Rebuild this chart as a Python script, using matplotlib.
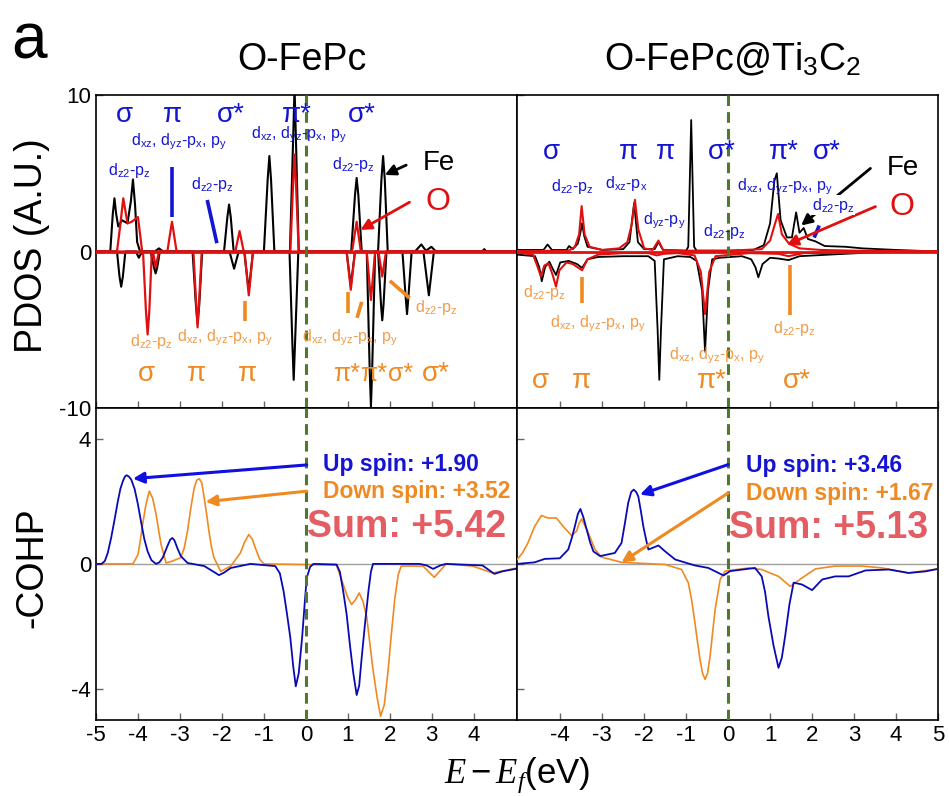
import numpy as np
import matplotlib
matplotlib.use("Agg")
import matplotlib.pyplot as plt

plt.rcParams['font.family'] = ['Liberation Sans', 'DejaVu Sans']
plt.rcParams['mathtext.fontset'] = 'custom'
plt.rcParams['mathtext.rm'] = 'Liberation Sans'
plt.rcParams['mathtext.it'] = 'Liberation Serif:italic'
plt.rcParams['mathtext.bf'] = 'Liberation Sans:bold'
plt.rcParams['axes.unicode_minus'] = False

# ---- PDOS, O-FePc (x in eV, y in A.U.) ----
fe_up_x = [-5.0, -4.66, -4.60, -4.56, -4.52, -4.47, -4.38, -4.25, -4.17, -4.12, -4.07, -4.02,
           -3.95, -3.6, -3.5, -3.4, -1.95, -1.87, -1.83, -1.79, -1.72, -1.0, -0.91, -0.87,
           -0.83, -0.75, -0.38, -0.30, -0.27, -0.24, -0.17, 1.08, 1.17, 1.21, 1.25, 1.33,
           1.72, 1.80, 1.84, 1.88, 1.95, 2.6, 2.75, 2.86, 2.99, 3.1, 4.2, 4.25, 4.3, 5.03]
fe_up_y = [0, 0, 2.4, 3.4, 2.4, 1.6, 2.0, 1.8, 3.2, 4.6, 3.0, 0.6,
           0, 0, 0.2, 0, 0, 2.2, 3.0, 2.2, 0, 0, 4.6, 6.1,
           4.6, 0, 0, 7.5, 10.5, 7.5, 0, 0, 3.6, 4.7, 3.6, 0,
           0, 4.6, 6.1, 4.6, 0, 0, 0.45, 0.05, 0.3, 0, 0, 0.15, 0, 0]
fe_dn_x = [-5.0, -4.5, -4.44, -4.40, -4.36, -4.3, -4.05, -3.98, -3.9, -3.7, -3.62, -3.58,
           -3.54, -3.48, -2.7, -2.62, -2.58, -2.54, -2.47, -1.82, -1.71, -1.6, -1.47, -1.36,
           -1.26, -0.39, -0.32, -0.29, -0.26, -0.18, 0.97, 1.07, 1.17, 1.45, 1.52, 1.55,
           1.58, 1.65, 1.72, 1.79, 1.82, 1.85, 1.92, 2.3, 2.38, 2.41, 2.44, 2.52, 2.8, 2.93,
           3.05, 5.03]
fe_dn_y = [0, 0, -1.6, -2.25, -1.6, 0, 0, -0.4, 0, 0, -1.0, -1.4,
           -1.0, 0, 0, -3.4, -4.6, -3.4, 0, 0, -1.1, 0, 0, -2.5,
           0, 0, -6.0, -8.2, -6.0, 0, 0, -2.2, 0, 0, -7.5, -9.9,
           -7.5, 0, 0, -3.4, -4.4, -3.4, 0, 0, -3.0, -4.0, -3.0, 0, 0, -2.8,
           0, 0]
o_up_x = [-5.0, -4.5, -4.43, -4.35, -4.25, -4.15, -4.0, -3.9, -3.3, -3.22, -3.19, -3.16,
          -3.08, -1.68, -1.58, -1.48, -0.37, -0.30, -0.27, -0.24, -0.17, 1.1, 1.21, 1.31,
          5.03]
o_up_y = [0, 0, 1.5, 3.4, 1.8, 1.9, 2.2, 0, 0, 1.4, 1.9, 1.4,
          0, 0, 1.3, 0, 0, 4.6, 6.2, 4.6, 0, 0, 1.9, 0,
          0]
o_dn_x = [-5.0, -3.88, -3.81, -3.77, -3.73, -3.67, -3.64, -3.58, -3.5, -2.68, -2.61, -2.58,
          -2.55, -2.48, -1.46, -1.39, -1.36, -1.33, -1.26, 0.97, 1.07, 1.17, 1.45, 1.55,
          1.65, 1.73, 1.82, 1.91, 5.03]
o_dn_y = [0, 0, -3.8, -5.3, -3.8, 0, 0, -1.0, 0, 0, -3.5, -4.85,
          -3.5, 0, 0, -2.0, -2.8, -2.0, 0, 0, -2.45, 0, 0, -3.1,
          0, 0, -1.6, 0, 0]

# ---- PDOS, O-FePc@Ti3C2 ----
fe2_up_x = [-5.03, -4.4, -4.3, -4.2, -3.85, -3.79, -3.7, -3.58, -3.52, -3.48, -3.43, -3.35,
            -3.0, -2.5, -2.35, -2.24, -2.15, -2.0, -1.75, -1.66, -1.55, -1.0, -0.95, -0.88,
            -0.81, -0.75, 0.0, 0.6, 0.85, 1.0, 1.1, 1.16, 1.25, 1.4, 1.52, 1.62, 1.7, 1.8,
            1.9, 2.08, 2.3, 2.8, 3.2, 4.0, 4.5, 5.0]
fe2_up_y = [0.1, 0.1, 0.45, 0.1, 0.1, 0.35, 0.15, 0.5, 1.2, 1.8, 1.0, 0.3,
            0.1, 0.15, 0.6, 3.1, 0.6, 0.15, 0.15, 0.6, 0.1, 0.05, 0.3, 8.4,
            0.3, 0.05, 0.05, 0.1, 0.4, 1.8, 4.5, 5.0, 2.0, 0.9, 0.9, 2.5, 1.2, 1.5,
            0.8, 0.65, 0.35, 0.3, 0.2, 0.1, 0.05, 0]
fe2_dn_x = [-5.03, -4.6, -4.5, -4.44, -4.36, -4.26, -4.18, -4.1, -4.0, -3.8, -3.6, -3.48,
            -3.35, -3.1, -2.5, -1.9, -1.75, -1.68, -1.64, -1.6, -1.53, -1.2, -0.9, -0.75,
            -0.62, -0.55, -0.48, -0.38, -0.2, 0.33, 0.55, 0.65, 0.72, 0.82, 1.0, 1.2, 1.44,
            1.7, 2.4, 3.5, 5.0]
fe2_dn_y = [-0.2, -0.3, -1.0, -1.9, -1.0, -0.65, -1.1, -1.5, -0.7, -0.6, -0.8, -1.05,
            -0.5, -0.35, -0.3, -0.3, -0.6, -5.0, -8.2, -5.0, -0.5, -0.3, -0.35, -0.6,
            -2.5, -6.4, -2.5, -0.5, -0.4, -0.3, -0.5, -1.0, -1.65, -0.8, -0.4, -0.45, -0.55,
            -0.3, -0.2, -0.05, 0]
o2_up_x = [-5.03, -3.8, -3.65, -3.55, -3.49, -3.42, -3.3, -3.0, -2.6, -2.4, -2.3, -2.22,
           -2.14, -2.0, -1.8, -1.66, -1.55, -1.0, 0.0, 0.8, 1.0, 1.12, 1.19, 1.28, 1.45,
           1.7, 2.2, 3.0, 5.0]
o2_up_y = [0.03, 0.05, 0.3, 1.1, 2.9, 1.1, 0.3, 0.1, 0.2, 0.6, 1.7, 3.3,
           1.4, 0.2, 0.1, 0.7, 0.1, 0.05, 0.05, 0.15, 0.7, 1.8, 2.4, 1.1, 0.5,
           0.2, 0.1, 0.05, 0.02]
o2_dn_x = [-5.03, -4.65, -4.55, -4.46, -4.38, -4.28, -4.18, -4.1, -4.02, -3.85, -3.7, -3.48,
           -3.35, -3.1, -2.5, -1.9, -1.7, -1.55, -1.2, -0.8, -0.65, -0.55, -0.45, -0.3,
           0.5, 1.2, 1.44, 1.8, 3.0, 5.0]
o2_dn_y = [-0.05, -0.2, -0.9, -1.6, -0.9, -0.75, -1.5, -2.25, -1.2, -0.7, -0.8, -1.2,
           -0.5, -0.2, -0.1, -0.1, -0.25, -0.15, -0.1, -0.25, -1.3, -4.0, -1.3, -0.3,
           -0.1, -0.15, -0.3, -0.1, -0.05, 0]

# ---- -COHP, O-FePc ----
up1_x = [-5.0, -4.87, -4.79, -4.72, -4.64, -4.56, -4.48, -4.42, -4.36, -4.31, -4.27, -4.22,
         -4.16, -4.08, -4.0, -3.93, -3.85, -3.77, -3.68, -3.57, -3.49, -3.41, -3.29, -3.23,
         -3.18, -3.13, -3.06, -2.98, -2.82, -2.42, -2.2, -2.07, -1.95, -1.79, -1.32, -0.73,
         -0.62, -0.53, -0.45, -0.37, -0.3, -0.24, -0.17, -0.09, -0.03, 0.02, 0.1, 0.18,
         0.73, 0.81, 0.89, 0.97, 1.05, 1.13, 1.21, 1.27, 1.33, 1.41, 1.49, 1.55, 1.6, 2.71,
         2.88, 3.03, 3.2, 3.34, 4.21, 4.49, 4.68, 5.03]
up1_y = [0, 0, 0.09, 0.35, 0.83, 1.4, 2.0, 2.4, 2.65, 2.8, 2.84, 2.8,
         2.7, 2.4, 1.9, 1.37, 0.8, 0.4, 0.12, 0.0, 0.05, 0.2, 0.6, 0.78,
         0.83, 0.75, 0.5, 0.25, 0.03, -0.07, -0.25, -0.36, -0.28, -0.13, 0, -0.07,
         -0.3, -0.88, -1.6, -2.37, -3.3, -3.92, -3.5, -2.37, -1.3, -0.45, -0.1, 0,
         -0.02, -0.25, -0.88, -1.6, -2.6, -3.5, -4.2, -3.9, -3.0, -1.9, -0.88, -0.25, 0, 0,
         -0.05, -0.16, -0.05, 0, -0.05, -0.32, -0.24, -0.15]
dn1_x = [-5.0, -4.12, -4.0, -3.95, -3.89, -3.81, -3.73, -3.65, -3.57, -3.51, -3.45, -3.33,
         -3.18, -2.98, -2.9, -2.82, -2.74, -2.66, -2.6, -2.54, -2.48, -2.42, -2.36, -2.31,
         -2.25, -2.19, -2.03, -1.79, -1.56, -1.46, -1.36, -1.28, -1.2, -1.1, -1.0, 0.73,
         0.89, 0.99, 1.09, 1.18, 1.27, 1.36, 1.45, 1.52, 1.6, 1.7, 1.78, 1.87, 1.96, 2.04,
         2.12, 2.2, 2.27, 2.79, 3.06, 3.34, 3.97, 4.45, 5.03]
dn1_y = [0, 0, 0.3, 0.7, 1.26, 1.9, 2.33, 2.1, 1.6, 1.1, 0.62, 0.03,
         0.09, 0.2, 0.5, 1.05, 1.8, 2.44, 2.68, 2.73, 2.6, 2.1, 1.55, 1.05,
         0.55, 0.2, -0.24, -0.07, 0.35, 0.7, 0.94, 0.8, 0.5, 0.15, 0, -0.04,
         -0.66, -1.05, -1.3, -1.15, -0.93, -1.2, -1.7, -2.5, -3.4, -4.3, -4.88, -4.5, -3.4, -2.2,
         -1.1, -0.35, -0.07, -0.07, -0.43, 0, -0.07, -0.29, -0.13]

# ---- -COHP, O-FePc@Ti3C2 ----
up2_x = [-5.03, -4.61, -4.37, -4.01, -3.81, -3.72, -3.65, -3.58, -3.52, -3.45, -3.37, -3.29,
         -3.21, -3.05, -2.7, -2.54, -2.46, -2.38, -2.31, -2.25, -2.19, -2.14, -2.08, -2.02,
         -1.95, -1.9, -1.66, -1.5, -1.26, -0.79, -0.47, -0.11, 0.05, 0.64, 0.8, 0.88, 0.96,
         1.08, 1.2, 1.28, 1.36, 1.46, 1.56, 1.76, 2.0, 2.24, 2.55, 2.87, 3.27, 3.83, 4.3,
         4.7, 5.0]
up2_y = [0, 0.05, 0.16, 0.18, 0.46, 0.85, 1.21, 1.6, 1.76, 1.5, 1.1, 0.7,
         0.4, 0.25, 0.35, 0.67, 1.3, 1.96, 2.3, 2.38, 2.3, 2.16, 1.7, 1.2,
         0.75, 0.46, 0.59, 0.4, 0.14, -0.05, -0.13, -0.37, -0.23, -0.13, -0.4, -0.9, -1.68,
         -2.6, -3.33, -3.0, -2.3, -1.3, -0.6, -0.66, -0.84, -0.5, -0.4, -0.4, -0.21, -0.18, -0.29,
         -0.24, -0.16]
dn2_x = [-5.03, -4.9, -4.77, -4.61, -4.45, -4.29, -4.09, -3.93, -3.73, -3.61, -3.55, -3.49,
         -3.42, -3.33, -3.17, -3.02, -2.54, -1.5, -1.11, -0.95, -0.87, -0.79, -0.73, -0.67,
         -0.61, -0.55, -0.49, -0.43, -0.37, -0.31, -0.19, -0.07, 0.49, 0.8, 1.2, 1.48, 1.76,
         2.08, 2.55, 3.19, 3.67, 4.3, 5.0]
dn2_y = [0.14, 0.35, 0.67, 1.2, 1.55, 1.47, 1.47, 1.2, 0.91, 1.05, 1.3, 1.44,
         1.25, 0.99, 0.46, 0.22, 0.05, -0.02, -0.18, -0.6, -1.15, -1.89, -2.5, -3.06,
         -3.5, -3.7, -3.5, -2.96, -2.2, -1.46, -0.5, -0.23, -0.13, -0.18, -0.4, -0.72, -0.45,
         -0.16, -0.07, -0.07, -0.13, -0.29, -0.16]

up_spin = [1.90, 3.46]
down_spin = [3.52, 1.67]

BLUE = '#1414d2'
ORANGE = '#ef8a22'
LORANGE = '#f29a45'
LINEBLUE = '#0a0ab4'
GREEN = '#4e7a2e'
SUMRED = '#e35d63'

fig = plt.figure(figsize=(9.49, 7.96), dpi=100)
L0, W = 96 / 949, 421 / 949
R0 = 517 / 949
T0, H = 1 - 408 / 796, 313 / 796
B0 = 1 - 720 / 796

ax_tl = fig.add_axes([L0, T0, W, H])
ax_tr = fig.add_axes([R0, T0, W, H])
ax_bl = fig.add_axes([L0, B0, W, H - 0.001])
ax_br = fig.add_axes([R0, B0, W, H - 0.001])

for ax in (ax_tl, ax_tr, ax_bl, ax_br):
    for s in ax.spines.values():
        s.set_linewidth(1.2)
    ax.tick_params(direction='in', length=5, width=1, color='#666666', labelsize=16)
    ax.axvline(0, color=GREEN, lw=2.2, ls=(0, (3.5, 2)), zorder=6)

for ax in (ax_tl, ax_bl):
    ax.set_xlim(-5.0, 5.03)
    ax.set_xticks(range(-5, 5))
for ax in (ax_tr, ax_br):
    ax.set_xlim(-5.03, 5.0)
    ax.set_xticks(range(-4, 6))
for ax in (ax_tl, ax_tr):
    ax.set_ylim(-10, 10)
    ax.set_yticks([-10, 0, 10])
    ax.tick_params(labelbottom=False)
for ax in (ax_bl, ax_br):
    ax.set_ylim(-5, 5)
    ax.set_yticks([-4, 0, 4])
for ax in (ax_tr, ax_br):
    ax.tick_params(labelleft=False)

# PDOS curves
ax_tl.plot(fe_up_x, fe_up_y, color='black', lw=1.5, zorder=3)
ax_tl.plot(fe_dn_x, fe_dn_y, color='black', lw=1.5, zorder=3)
ax_tl.plot(o_up_x, o_up_y, color='#e01010', lw=1.6, zorder=4)
ax_tl.plot(o_dn_x, o_dn_y, color='#e01010', lw=1.6, zorder=4)
ax_tr.plot(fe2_up_x, fe2_up_y, color='black', lw=1.3, zorder=3)
ax_tr.plot(fe2_dn_x, fe2_dn_y, color='black', lw=1.3, zorder=3)
ax_tr.plot(o2_up_x, o2_up_y, color='#e01010', lw=1.5, zorder=4)
ax_tr.plot(o2_dn_x, o2_dn_y, color='#e01010', lw=1.5, zorder=4)
for ax in (ax_tl, ax_tr):
    ax.axhline(0, color='#e01010', lw=2, zorder=5)

# COHP curves
ax_bl.axhline(0, color='#a0a0a0', lw=1, zorder=1)
ax_br.axhline(0, color='#a0a0a0', lw=1, zorder=1)
ax_bl.plot(dn1_x, dn1_y, color=ORANGE, lw=1.2, zorder=3)
ax_bl.plot(up1_x, up1_y, color=LINEBLUE, lw=1.3, zorder=3)
ax_br.plot(dn2_x, dn2_y, color=ORANGE, lw=1.2, zorder=3)
ax_br.plot(up2_x, up2_y, color=LINEBLUE, lw=1.3, zorder=3)


def arrow(ax, tail, head, color, lw=2.0, z=7):
    ax.annotate('', xy=head, xytext=tail, zorder=z,
                arrowprops=dict(arrowstyle='-|>', color=color, lw=lw,
                                mutation_scale=16, shrinkA=0, shrinkB=0))


def mark(ax, xs, ys, color):
    ax.plot(xs, ys, color=color, lw=2.6, solid_capstyle='butt', zorder=7)


dz2 = r'd$_\mathrm{z2}$-p$_\mathrm{z}$'
dxy = r'd$_\mathrm{xz}$, d$_\mathrm{yz}$-p$_\mathrm{x}$, p$_\mathrm{y}$'
lab = dict(fontsize=11.5, va='center', zorder=8)
big = dict(fontsize=20, ha='center', va='center', zorder=8)

# O-FePc labels
for x, t in [(-4.33, 'σ'), (-3.18, 'π'), (-1.79, 'σ*'), (-0.21, 'π*'), (1.33, 'σ*')]:
    ax_tl.text(x, 8.75, t, color=BLUE, **big)
for x, t in [(-3.81, 'σ'), (-2.6, 'π'), (-1.4, 'π'), (3.1, 'σ*')]:
    ax_tl.text(x, -7.85, t, color=ORANGE, **big)
for x, t in [(0.97, 'π*'), (1.62, 'π*'), (2.26, 'σ*')]:
    ax_tl.text(x, -7.85, t, color=ORANGE, fontsize=18, ha='center', va='center', zorder=8)
ax_tl.text(-4.16, 7.03, dxy, color=BLUE, **lab)
ax_tl.text(-4.72, 5.2, dz2, color=BLUE, **lab)
ax_tl.text(-2.74, 4.25, dz2, color=BLUE, **lab)
ax_tl.text(-1.3, 7.43, dxy, color=BLUE, **lab)
ax_tl.text(0.62, 5.58, dz2, color=BLUE, **lab)
mark(ax_tl, [-3.19, -3.19], [5.43, 2.23], BLUE)
mark(ax_tl, [-2.35, -2.12], [3.29, 0.53], BLUE)
ax_tl.text(-4.18, -5.73, dz2, color=LORANGE, **lab)
ax_tl.text(-3.07, -5.5, dxy, color=LORANGE, **lab)
ax_tl.text(-0.09, -5.5, dxy, color=LORANGE, **lab)
ax_tl.text(2.61, -3.57, dz2, color=LORANGE, **lab)
mark(ax_tl, [-1.44, -1.44], [-3.18, -4.46], ORANGE)
mark(ax_tl, [1.01, 1.01], [-2.57, -3.9], ORANGE)
mark(ax_tl, [1.33, 1.22], [-3.22, -4.24], ORANGE)
mark(ax_tl, [2.0, 2.47], [-1.87, -2.97], ORANGE)
ax_tl.text(2.78, 5.65, 'Fe', color='black', fontsize=20, va='center', zorder=8)
ax_tl.text(2.85, 3.18, 'O', color='#e01010', fontsize=23, va='center', zorder=8)
arrow(ax_tl, (2.39, 5.52), (1.88, 4.89), 'black')
arrow(ax_tl, (2.47, 3.15), (1.3, 1.38), '#e01010')

# O-FePc@Ti3C2 labels
for x, t in [(-4.21, 'σ'), (-2.38, 'π'), (-1.5, 'π'), (-0.15, 'σ*'), (1.32, 'π*'), (2.36, 'σ*')]:
    ax_tr.text(x, 6.37, t, color=BLUE, **big)
for x, t in [(-4.46, 'σ'), (-3.49, 'π'), (-0.39, 'π*'), (1.64, 'σ*')]:
    ax_tr.text(x, -8.28, t, color=ORANGE, **big)
ax_tr.text(-4.21, 4.14, dz2, color=BLUE, **lab)
ax_tr.text(-2.94, 4.36, r'd$_\mathrm{xz}$-p$_\mathrm{x}$', color=BLUE, **lab)
ax_tr.text(-2.02, 1.96, r'd$_\mathrm{yz}$-p$_\mathrm{y}$', color=BLUE, **lab)
ax_tr.text(-0.59, 1.27, dz2, color=BLUE, **lab)
ax_tr.text(0.21, 4.14, dxy, color=BLUE, **lab)
ax_tr.text(2.0, 2.97, dz2, color=BLUE, fontsize=11.5, va='center', zorder=9,
           bbox=dict(facecolor='white', edgecolor='none', pad=0.5))
mark(ax_tr, [2.17, 2.05], [1.66, 0.89], BLUE)
ax_tr.text(-4.89, -2.65, dz2, color=LORANGE, **lab)
ax_tr.text(-4.25, -4.63, dxy, color=LORANGE, **lab)
ax_tr.text(-1.42, -6.69, dxy, color=LORANGE, **lab)
ax_tr.text(1.08, -4.94, dz2, color=LORANGE, **lab)
mark(ax_tr, [-3.49, -3.49], [-1.66, -3.29], ORANGE)
mark(ax_tr, [1.48, 1.48], [-0.85, -4.03], ORANGE)
ax_tr.text(3.79, 5.31, 'Fe', color='black', fontsize=20, va='center', zorder=8)
ax_tr.text(3.85, 2.87, 'O', color='#e01010', fontsize=23, va='center', zorder=8)
arrow(ax_tr, (3.39, 5.31), (1.74, 1.66), 'black', z=7)
arrow(ax_tr, (3.51, 2.87), (1.4, 0.43), '#e01010', z=7)

# COHP annotations
bold = dict(fontweight='bold', va='center', zorder=8)
ax_bl.text(0.41, 3.18, 'Up spin: +%.2f' % up_spin[0], color=BLUE, fontsize=16.5, **bold)
ax_bl.text(0.41, 2.33, 'Down spin: +%.2f' % down_spin[0], color=ORANGE, fontsize=16.5, **bold)
ax_bl.text(0.03, 1.19, 'Sum: +%.2f' % (up_spin[0] + down_spin[0]), color=SUMRED,
           fontsize=27, **bold)
arrow(ax_bl, (0.02, 3.17), (-4.12, 2.73), '#1010e0', lw=2.2)
arrow(ax_bl, (0.02, 2.33), (-2.39, 1.99), ORANGE, lw=2.2)
ax_br.text(0.43, 3.14, 'Up spin: +%.2f' % up_spin[1], color=BLUE, fontsize=16.5, **bold)
ax_br.text(0.43, 2.27, 'Down spin: +%.2f' % down_spin[1], color=ORANGE, fontsize=16.5, **bold)
ax_br.text(0.02, 1.15, 'Sum: +%.2f' % (up_spin[1] + down_spin[1]), color=SUMRED,
           fontsize=27, **bold)
arrow(ax_br, (0.0, 3.18), (-2.1, 2.22), '#1010e0', lw=2.2)
arrow(ax_br, (0.0, 2.27), (-2.54, 0.05), ORANGE, lw=2.2)

# figure labels
fig.text(0.012, 0.985, 'a', fontsize=46, va='top', ha='left')
fig.text(302 / 949, 1 - 60 / 796, 'O-FePc', fontsize=27, ha='center', va='center')
fig.text(733 / 949, 1 - 60 / 796, r'O-FePc@Ti$_3$C$_2$', fontsize=27, ha='center', va='center')
fig.text(32 / 949, 1 - 246 / 796, 'PDOS (A.U.)', fontsize=27, rotation=90, ha='center', va='center')
fig.text(32 / 949, 1 - 568 / 796, '-COHP', fontsize=27, rotation=90, ha='center', va='center')
fig.text(517 / 949, 1 - 775 / 796, r'$E-E_f$(eV)', fontsize=25, ha='center', va='center')

fig.savefig('out.png', dpi=100)
